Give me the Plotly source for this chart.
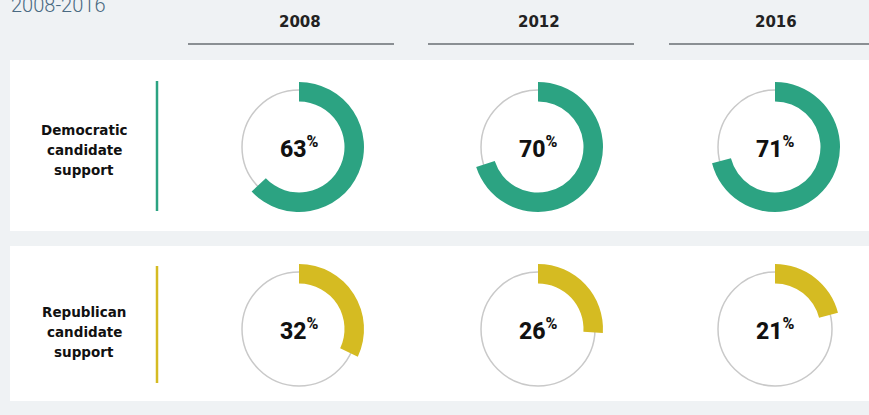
import plotly.graph_objects as go

# ── Data ──────────────────────────────────────────────────────────────────────
years = ["2008", "2012", "2016"]
parties = ["Democratic<br>candidate<br>support", "Republican<br>candidate<br>support"]
dem_support = [63, 70, 71]
rep_support = [32, 26, 21]
title_text = "2008-2016"

# ── Layout constants (pixels) ─────────────────────────────────────────────────
W, H = 869, 415
BG = "#eff2f4"
GREEN = "#2ca382"
YELLOW = "#d5bb22"
col_x = [299, 538, 775]
row_y = [147, 329]
R_OUT = 65
HOLE = 0.70
FONT = "DejaVu Sans"


def px_dom(cx, cy, r):
    return dict(x=[(cx - r) / W, (cx + r) / W],
                y=[1 - (cy + r) / H, 1 - (cy - r) / H])


fig = go.Figure()

shapes = []
annotations = []

# panels
for y0, y1 in [(60, 231), (246, 401)]:
    shapes.append(dict(type="rect", xref="x", yref="y", x0=10, x1=900, y0=y0, y1=y1,
                       fillcolor="white", line=dict(width=0), layer="below"))

# header underlines + year labels
for (x0, x1), yr, cx in zip([(188, 394), (428, 634), (669, 880)], years, col_x):
    shapes.append(dict(type="line", xref="x", yref="y", x0=x0, x1=x1, y0=44, y1=44,
                       line=dict(color="#8a8f93", width=2), layer="below"))
    annotations.append(dict(x=cx + 1, y=22, xref="x", yref="y", text=yr, showarrow=False,
                            font=dict(family=FONT, size=15, color="#222", weight=600)))

annotations.append(dict(x=9, y=5, xref="x", yref="y", text=title_text, showarrow=False,
                        xanchor="left",
                        font=dict(family="Roboto", size=20, color="#4a6a82", weight=300)))

# row labels (one annotation per line for 20px line spacing) + accent bars
for label, cy, color, (ly0, ly1) in zip(parties, row_y, [GREEN, YELLOW],
                                        [(81, 211), (266, 383)]):
    shapes.append(dict(type="line", xref="x", yref="y", x0=157, x1=157, y0=ly0, y1=ly1,
                       line=dict(color=color, width=2.5), layer="below"))
    for i, part in enumerate(label.split("<br>")):
        annotations.append(dict(x=84, y=cy - 17 + 20 * i, xref="x", yref="y", text=part,
                                showarrow=False,
                                font=dict(family=FONT, size=13.5, color="#111", weight=600)))

# donuts
for values, cy, color in zip([dem_support, rep_support], row_y, [GREEN, YELLOW]):
    for v, cx in zip(values, col_x):
        shapes.append(dict(type="circle", xref="x", yref="y",
                           x0=cx - 57, x1=cx + 57, y0=cy - 57, y1=cy + 57,
                           line=dict(color="#c9c9c9", width=1.5), layer="below"))
        fig.add_trace(go.Pie(
            values=[v, 100 - v],
            marker=dict(colors=[color, "rgba(0,0,0,0)"], line=dict(width=0)),
            hole=HOLE, sort=False, direction="clockwise", rotation=0,
            textinfo="none", hoverinfo="skip", showlegend=False,
            domain=px_dom(cx, cy, R_OUT),
        ))
        annotations.append(dict(x=cx, y=cy, xref="x", yref="y",
                                text=f"{v}<sup>%</sup>", showarrow=False,
                                font=dict(family="Roboto", size=23, color="#111", weight=800)))

# invisible full-canvas axes so everything is placed in pixel units
fig.add_trace(go.Scatter(x=[0, W], y=[0, H], mode="markers",
                         marker=dict(opacity=0), hoverinfo="skip", showlegend=False))

fig.update_layout(
    width=W, height=H,
    margin=dict(l=0, r=0, t=0, b=0),
    paper_bgcolor=BG, plot_bgcolor=BG,
    xaxis=dict(range=[0, W], visible=False, fixedrange=True),
    yaxis=dict(range=[H, 0], visible=False, fixedrange=True),
    shapes=shapes,
    annotations=annotations,
)

fig.write_html("out.html", config={"displayModeBar": False},
               post_script="document.body.style.margin='0';")
